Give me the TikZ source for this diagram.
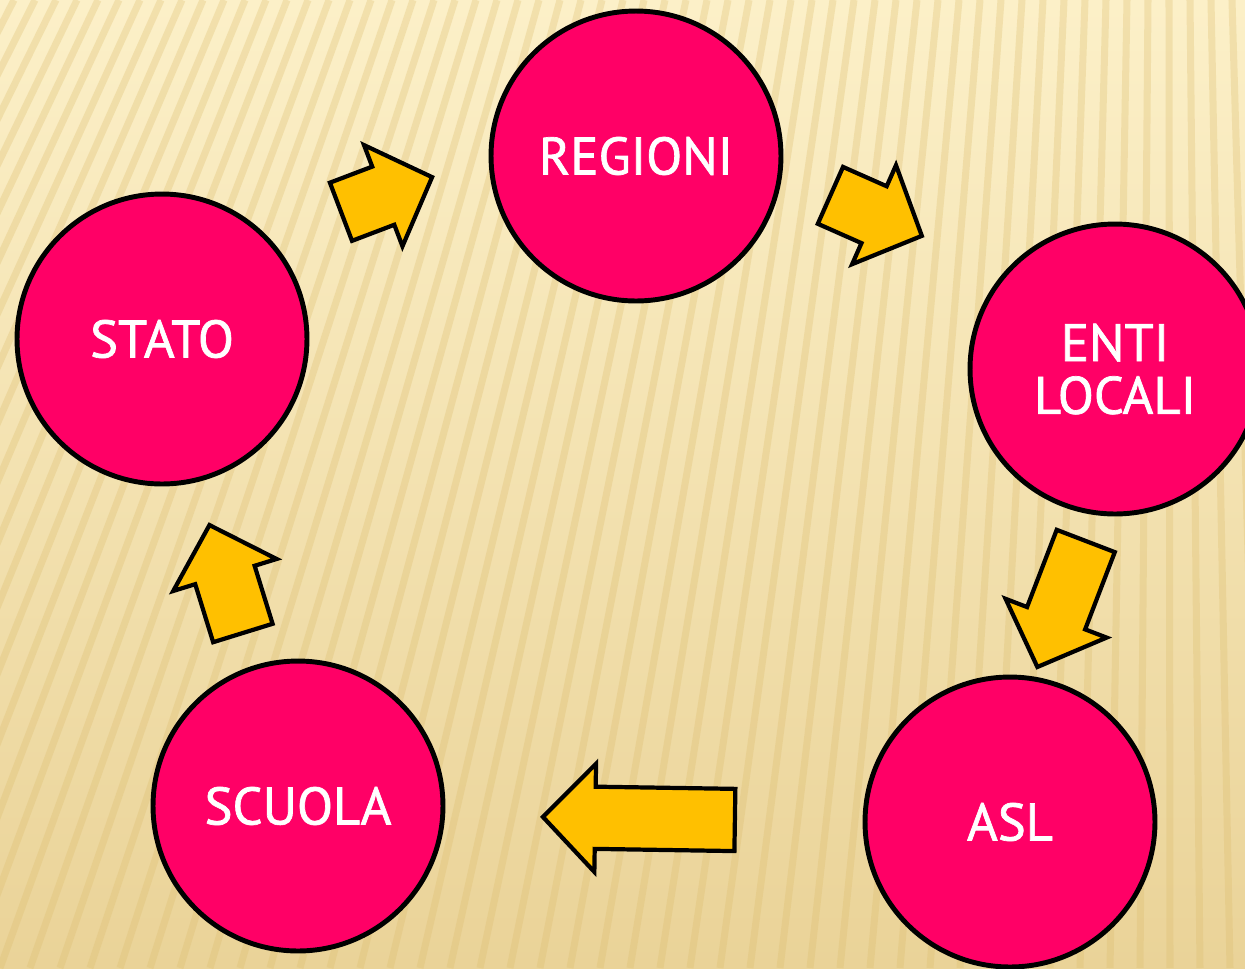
\documentclass[tikz,border=0pt]{standalone}
\usepackage{fontspec}
\newfontfamily\circfont[FakeBold=1.3]{PT Sans}
\usetikzlibrary{shapes.arrows}
\definecolor{cream}{HTML}{FCF0C8}
\definecolor{sand}{HTML}{EAD398}
\definecolor{stripe}{HTML}{DCBC6C}
\definecolor{hotpink}{HTML}{FF0066}
\definecolor{gold}{HTML}{FFC000}
\tikzset{
	circ/.style={circle, draw=black, line width=2.8pt, fill=hotpink, minimum size=5.8cm, inner sep=0pt,
		text=white, font=\circfont\fontsize{30}{30}\selectfont, align=center},
	flow/.style={single arrow, draw=black, line width=2.4pt, fill=gold, inner xsep=0pt, inner ysep=0.58cm,
		minimum width=2.08cm, single arrow head extend=0.46cm, single arrow tip angle=92, anchor=tail},
}

\begin{document}
\begin{tikzpicture}[x=0.02cm, y=-0.02cm]
	%%%background
	\useasboundingbox (0,0) rectangle (1245,968);
	\clip (0,0) rectangle (1245,968);
	\shade[top color=cream, middle color=cream, bottom color=sand] (0,0) rectangle (1245,968);
	\foreach \x in {-600,-570,...,1450}
		\draw[stripe, line width=4pt, opacity=0.3] (\x,968) -- ({\x+350-0.3*\x},0);
	%%%circles
	\node[circ] at (636,156) (regioni){REGIONI};
	\node[circ] at (162,339) (stato){STATO};
	\node[circ] at (1115,369) (enti){ENTI\\LOCALI};
	\node[circ] at (1010,822) (asl){ASL};
	\node[circ] at (298,806) (scuola){SCUOLA};
	%%%arrows
	%stato -> regioni
	\node[flow, minimum height=1.95cm, rotate=20.8] at (339,212.5) (statoreg){};
	%regioni -> enti locali
	\node[flow, minimum height=2cm, rotate=-23.9] at (828.5,194.5) (regenti){};
	%enti locali -> asl
	\node[flow, minimum height=2.7cm, rotate=-111] at (1086.5,539) (entiasl){};
	%asl -> scuola
	\node[flow, minimum height=3.84cm, rotate=179.1] at (737,820) (aslscuola){};
	%scuola -> stato
	\node[flow, minimum height=2.26cm, rotate=107.2] at (243.5,635) (scuolastato){};
\end{tikzpicture}
\end{document}
